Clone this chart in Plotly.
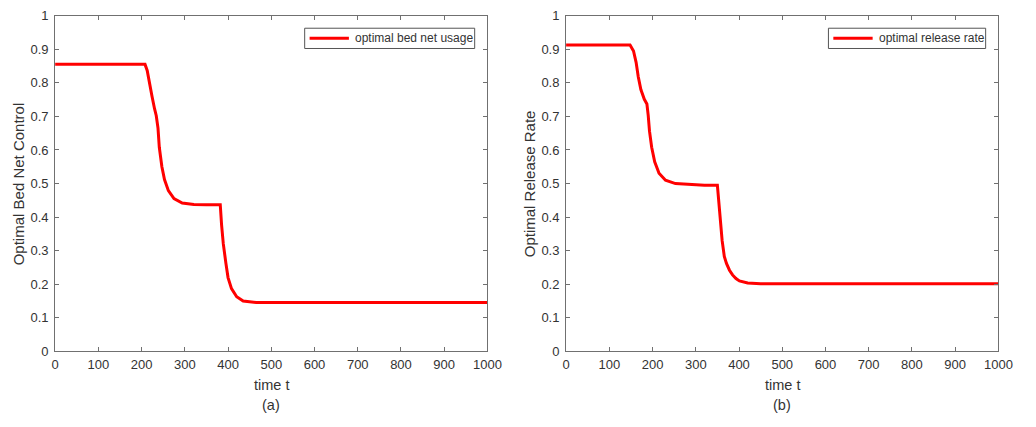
import plotly.graph_objects as go
from plotly.subplots import make_subplots

# Panel (a): optimal bed net usage over time
t_bed = [0, 100, 208, 213, 218, 224, 230, 234, 238, 241, 247, 253, 262, 275, 294,
         321, 350, 382, 385, 389, 395, 400, 408, 420, 435, 465, 600, 800, 1000]
u_bed = [0.855, 0.855, 0.855, 0.837, 0.799, 0.761, 0.723, 0.702, 0.665, 0.608,
         0.550, 0.512, 0.479, 0.455, 0.442, 0.438, 0.437, 0.437, 0.378, 0.321,
         0.263, 0.220, 0.187, 0.163, 0.150, 0.146, 0.146, 0.146, 0.146]

# Panel (b): optimal release rate over time
t_rel = [0, 100, 148, 156, 162, 167, 173, 181, 187, 190, 193, 198, 205, 215, 230,
         253, 291, 320, 350, 354, 357, 361, 366, 371, 378, 385, 393, 401, 420, 450,
         600, 800, 1000]
u_rel = [0.913, 0.913, 0.913, 0.895, 0.861, 0.818, 0.780, 0.751, 0.737, 0.703,
         0.656, 0.608, 0.565, 0.531, 0.510, 0.500, 0.496, 0.495, 0.495, 0.436,
         0.378, 0.330, 0.283, 0.262, 0.242, 0.228, 0.217, 0.210, 0.204, 0.202,
         0.202, 0.202, 0.202]

x_ticks = list(range(0, 1001, 100))
y_ticks = [round(0.1 * i, 1) for i in range(11)]
y_tick_text = ["0", "0.1", "0.2", "0.3", "0.4", "0.5", "0.6", "0.7", "0.8", "0.9", "1"]

W, H = 1036, 427
FONT = "Liberation Sans, Arial, sans-serif"
AX = "#707070"
TXT = "#333333"

fig = make_subplots(rows=1, cols=2)

fig.add_trace(go.Scatter(x=t_bed, y=u_bed, mode="lines",
                         line=dict(color="#ff0000", width=3),
                         showlegend=False), row=1, col=1)
fig.add_trace(go.Scatter(x=t_rel, y=u_rel, mode="lines",
                         line=dict(color="#ff0000", width=3),
                         showlegend=False), row=1, col=2)

# plot-area boxes in pixel units
left_box = (52, 492)
right_box = (572, 1012)
top_px, bot_px = 9, 357


def px(x):
    return x / W


def py(y):
    return 1 - y / H


axis_common = dict(showline=True, linecolor=AX, linewidth=1, mirror="ticks",
                   ticks="inside", ticklen=4, tickcolor=AX, showgrid=False,
                   zeroline=False, tickfont=dict(family=FONT, size=13, color=TXT))

fig.update_xaxes(range=[0, 1000], tickvals=x_ticks, ticklabelstandoff=1,
                 **axis_common)
fig.update_yaxes(range=[0, 1], tickvals=y_ticks, ticktext=y_tick_text,
                 ticklabelstandoff=3, **axis_common)

fig.update_layout(
    width=W, height=H,
    margin=dict(l=0, r=0, t=0, b=0),
    paper_bgcolor="white", plot_bgcolor="white",
    xaxis=dict(domain=[px(left_box[0]), px(left_box[1])]),
    xaxis2=dict(domain=[px(right_box[0]), px(right_box[1])]),
    yaxis=dict(domain=[py(bot_px), py(top_px)]),
    yaxis2=dict(domain=[py(bot_px), py(top_px)]),
    showlegend=False,
)

annotations = []
for (x0, x1), ytitle, tag in [(left_box, "Optimal Bed Net Control", "(a)"),
                              (right_box, "Optimal Release Rate", "(b)")]:
    cx = (x0 + x1) / 2
    annotations.append(dict(x=px(cx), y=py(392), xref="paper", yref="paper",
                            text="time t", showarrow=False, xanchor="center",
                            yanchor="middle",
                            font=dict(family=FONT, size=14.5, color=TXT)))
    annotations.append(dict(x=px(cx), y=py(412), xref="paper", yref="paper",
                            text=tag, showarrow=False, xanchor="center",
                            yanchor="middle",
                            font=dict(family=FONT, size=14.5, color=TXT)))
    annotations.append(dict(x=px(x0 - 37), y=py((top_px + bot_px) / 2),
                            xref="paper", yref="paper", text=ytitle,
                            showarrow=False, textangle=-90, xanchor="center",
                            yanchor="middle",
                            font=dict(family=FONT, size=15, color=TXT)))
fig.update_layout(annotations=annotations)

# Legend boxes drawn as shapes with a sample line and label
legends = [((306, 479), "optimal bed net usage"),
           ((839, 999), "optimal release rate")]
for (lx0, lx1), label in legends:
    ly0, ly1 = 22, 43
    fig.add_shape(type="rect", xref="paper", yref="paper",
                  x0=px(lx0), x1=px(lx1), y0=py(ly1), y1=py(ly0),
                  line=dict(color="#555555", width=1), fillcolor="white")
    ym = (ly0 + ly1) / 2
    fig.add_shape(type="line", xref="paper", yref="paper",
                  x0=px(lx0 + 5), x1=px(lx0 + 45), y0=py(ym), y1=py(ym),
                  line=dict(color="#ff0000", width=3))
    fig.add_annotation(x=px(lx0 + 49), y=py(ym), xref="paper", yref="paper",
                       text=label, showarrow=False, xanchor="left",
                       yanchor="middle",
                       font=dict(family=FONT, size=12, color=TXT))

fig.write_html("out.html")
